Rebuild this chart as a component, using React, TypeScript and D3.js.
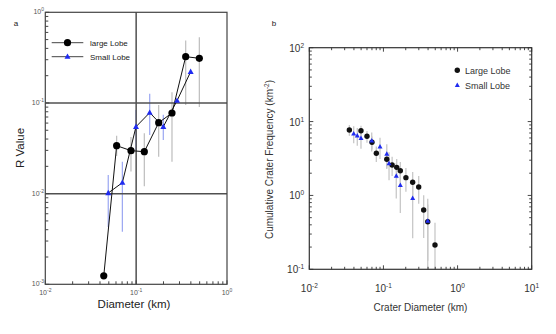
import React from "react";
import * as d3 from "d3";

// ---------- Panel a data (R value) ----------
const aLargeD = [0.044, 0.061, 0.0877, 0.123, 0.177, 0.248, 0.351, 0.496];
const aLargeR = [0.00124, 0.0338, 0.0298, 0.029, 0.0606, 0.0775, 0.324, 0.311];
const aLargeLo = [0.00124, 0.026, 0.0175, 0.0121, 0.0255, 0.0225, 0.095, 0.09];
const aLargeHi = [0.00124, 0.0436, 0.0421, 0.0463, 0.095, 0.131, 0.489, 0.53];

const aSmallD = [0.0493, 0.0705, 0.0996, 0.141, 0.199, 0.282, 0.398];
const aSmallR = [0.01016, 0.0132, 0.0547, 0.0781, 0.0547, 0.106, 0.221];
const aSmallLo = [0.00429, 0.0038, 0.0303, 0.0443, 0.039, 0.106, 0.221];
const aSmallHi = [0.0161, 0.0225, 0.0836, 0.126, 0.074, 0.106, 0.221];

// ---------- Panel b data (cumulative frequency) ----------
const bLargeD = [0.0347, 0.0498, 0.06, 0.0701, 0.0802, 0.111, 0.131, 0.151, 0.169, 0.201, 0.248, 0.299, 0.349, 0.396, 0.496];
const bLargeF = [7.69, 7.52, 6.32, 5.24, 3.72, 3.09, 2.58, 2.4, 2.16, 1.74, 1.51, 1.3, 0.635, 0.441, 0.213];
const bLargeErr = [1.28, 1.27, 1.15, 1.05, 0.89, 0.81, 0.75, 0.72, 0.68, 0.62, 0.57, 0.53, 0.37, 0.31, 0.213];

const bSmallD = [0.0397, 0.0444, 0.0498, 0.0695, 0.0899, 0.111, 0.119, 0.149, 0.169, 0.248, 0.396];
const bSmallF = [6.86, 6.44, 5.94, 5.51, 4.57, 3.64, 2.72, 1.83, 1.38, 0.914, 0.451];
const bSmallErr = [1.77, 1.72, 1.65, 1.59, 1.45, 1.29, 1.11, 0.92, 0.8, 0.65, 0.451];

const aXTicks = [0.01, 0.1, 1];
const aXTickLabels = ["-2", "-1", "0"];
const aYTicks = [0.001, 0.01, 0.1, 1];
const aYTickLabels = ["-3", "-2", "-1", "0"];
const bXTicks = [0.01, 0.1, 1, 10];
const bXTickLabels = ["-2", "-1", "0", "1"];
const bYTicks = [0.1, 1, 10, 100];
const bYTickLabels = ["-1", "0", "1", "2"];

const BLUE = "#1f2bf0";
const FONT = "Liberation Sans, Arial, sans-serif";

function minorTicks(lo: number, hi: number) {
  const out: number[] = [];
  for (let e = Math.round(Math.log10(lo)); e < Math.round(Math.log10(hi)); e++) {
    for (let k = 1; k <= 9; k++) out.push(k * Math.pow(10, e));
  }
  out.push(hi);
  return out;
}

function Tri({ x, y, s, color }: { x: number; y: number; s: number; color: string }) {
  const h = s * 0.9;
  return (
    <path
      d={`M${x},${y - h * 0.6} L${x + s / 2},${y + h * 0.4} L${x - s / 2},${y + h * 0.4} Z`}
      fill={color}
    />
  );
}

function PanelA() {
  const x = d3.scaleLog().domain([0.01, 1]).range([45.3, 227]);
  const y = d3.scaleLog().domain([0.001, 1]).range([284.3, 12.3]);
  const line = d3
    .line<number>()
    .x((d) => d);
  const largePath = d3.line<[number, number]>()(aLargeD.map((d, i) => [x(d), y(aLargeR[i])]));
  const smallPath = d3.line<[number, number]>()(aSmallD.map((d, i) => [x(d), y(aSmallR[i])]));
  void line;
  const xm = minorTicks(0.01, 1);
  const ym = minorTicks(0.001, 1);
  const frame = "#444";
  return (
    <g>
      {/* error bars */}
      {aLargeD.map((d, i) => (
        <line key={"ale" + i} x1={x(d)} x2={x(d)} y1={y(aLargeLo[i])} y2={y(aLargeHi[i])} stroke="#bdbdbd" strokeWidth={1.2} />
      ))}
      {aSmallD.map((d, i) => (
        <line key={"ase" + i} x1={x(d)} x2={x(d)} y1={y(aSmallLo[i])} y2={y(aSmallHi[i])} stroke="#9aa6f2" strokeWidth={1.2} />
      ))}
      {/* grid lines */}
      <line x1={x(0.1)} x2={x(0.1)} y1={y(0.001)} y2={y(1)} stroke="#505050" strokeWidth={1.5} />
      <line x1={x(0.01)} x2={x(1)} y1={y(0.1)} y2={y(0.1)} stroke="#505050" strokeWidth={1.5} />
      <line x1={x(0.01)} x2={x(1)} y1={y(0.01)} y2={y(0.01)} stroke="#505050" strokeWidth={1.5} />
      {/* frame */}
      <rect x={x(0.01)} y={y(1)} width={x(1) - x(0.01)} height={y(0.001) - y(1)} fill="none" stroke={frame} strokeWidth={1.2} />
      {xm.map((t, i) => (
        <line key={"axm" + i} x1={x(t)} x2={x(t)} y1={y(0.001)} y2={y(0.001) - (aXTicks.includes(t) ? 4 : 3)} stroke={frame} strokeWidth={1} />
      ))}
      {ym.map((t, i) => (
        <line key={"aym" + i} x1={x(0.01)} x2={x(0.01) + (aYTicks.includes(t) ? 4 : 3)} y1={y(t)} y2={y(t)} stroke={frame} strokeWidth={1} />
      ))}
      {/* tick labels */}
      {aXTicks.map((t, i) => (
        <text key={"axl" + i} x={x(t)} y={295} textAnchor="middle" fontSize={7} fill="#555" fontFamily={FONT}>
          10<tspan dy={-3} fontSize={5}>{aXTickLabels[i]}</tspan>
        </text>
      ))}
      {aYTicks.map((t, i) => (
        <text key={"ayl" + i} x={44} y={y(t) + 2} textAnchor="end" fontSize={7} fill="#555" fontFamily={FONT}>
          10<tspan dy={-3} fontSize={5}>{aYTickLabels[i]}</tspan>
        </text>
      ))}
      {/* series */}
      <path d={largePath || ""} fill="none" stroke="#111" strokeWidth={1} />
      <path d={smallPath || ""} fill="none" stroke="#111" strokeWidth={1} />
      {aLargeD.map((d, i) => (
        <circle key={"alc" + i} cx={x(d)} cy={y(aLargeR[i])} r={3.6} fill="#000" />
      ))}
      {aSmallD.map((d, i) => (
        <Tri key={"ast" + i} x={x(d)} y={y(aSmallR[i])} s={6} color={BLUE} />
      ))}
      {/* legend */}
      <line x1={51.7} x2={83.3} y1={42.7} y2={42.7} stroke="#444" strokeWidth={1} />
      <circle cx={67.5} cy={42.7} r={3.6} fill="#000" />
      <text x={90} y={45.5} fontSize={8} fill="#222" fontFamily={FONT}>large Lobe</text>
      <line x1={51.7} x2={83.3} y1={56.7} y2={56.7} stroke="#444" strokeWidth={1} />
      <Tri x={67.5} y={56.7} s={6} color={BLUE} />
      <text x={90} y={59.5} fontSize={8} fill="#222" fontFamily={FONT}>Small Lobe</text>
      {/* axis titles */}
      <text x={134} y={308} textAnchor="middle" fontSize={11.5} fill="#222" fontFamily={FONT}>Diameter (km)</text>
      <text transform="translate(24,148) rotate(-90)" textAnchor="middle" fontSize={11.5} fill="#222" fontFamily={FONT}>R Value</text>
      <text x={16} y={26} textAnchor="middle" fontSize={8} fill="#222" fontFamily={FONT}>a</text>
    </g>
  );
}

function PanelB() {
  const x = d3.scaleLog().domain([0.01, 10]).range([309.3, 531.7]);
  const y = d3.scaleLog().domain([0.1, 100]).range([269.3, 47.7]);
  const xm = minorTicks(0.01, 10);
  const ym = minorTicks(0.1, 100);
  const frame = "#333";
  const yBottom = y(0.1);
  const errY = (v: number) => (v <= 0.1 ? yBottom : y(v));
  return (
    <g>
      {bLargeD.map((d, i) => (
        <line key={"ble" + i} x1={x(d)} x2={x(d)} y1={errY(bLargeF[i] - bLargeErr[i])} y2={y(bLargeF[i] + bLargeErr[i])} stroke="#c8c8c8" strokeWidth={1.3} />
      ))}
      {bSmallD.map((d, i) => (
        <line key={"bse" + i} x1={x(d)} x2={x(d)} y1={errY(bSmallF[i] - bSmallErr[i])} y2={y(bSmallF[i] + bSmallErr[i])} stroke="#c8c8c8" strokeWidth={1.3} />
      ))}
      <rect x={x(0.01)} y={y(100)} width={x(10) - x(0.01)} height={y(0.1) - y(100)} fill="none" stroke={frame} strokeWidth={1.2} />
      {xm.map((t, i) => {
        const major = bXTicks.includes(t);
        const L = major ? 4 : 2.5;
        return (
          <g key={"bxm" + i}>
            <line x1={x(t)} x2={x(t)} y1={yBottom} y2={yBottom - L} stroke={frame} strokeWidth={0.9} />
            <line x1={x(t)} x2={x(t)} y1={y(100)} y2={y(100) + L} stroke={frame} strokeWidth={0.9} />
          </g>
        );
      })}
      {ym.map((t, i) => {
        const major = bYTicks.includes(t);
        const L = major ? 4 : 2.5;
        return (
          <g key={"bym" + i}>
            <line x1={x(0.01)} x2={x(0.01) + L} y1={y(t)} y2={y(t)} stroke={frame} strokeWidth={0.9} />
            <line x1={x(10)} x2={x(10) - L} y1={y(t)} y2={y(t)} stroke={frame} strokeWidth={0.9} />
          </g>
        );
      })}
      {bXTicks.map((t, i) => (
        <text key={"bxl" + i} x={x(t)} y={292} textAnchor="middle" fontSize={10} fill="#333" fontFamily={FONT}>
          10<tspan dy={-4} fontSize={6.5}>{bXTickLabels[i]}</tspan>
        </text>
      ))}
      {bYTicks.map((t, i) => (
        <text key={"byl" + i} x={304} y={y(t) + 4} textAnchor="end" fontSize={10} fill="#333" fontFamily={FONT}>
          10<tspan dy={-4} fontSize={6.5}>{bYTickLabels[i]}</tspan>
        </text>
      ))}
      {bLargeD.map((d, i) => (
        <circle key={"blc" + i} cx={x(d)} cy={y(bLargeF[i])} r={2.7} fill="#111" />
      ))}
      {bSmallD.map((d, i) => (
        <Tri key={"bst" + i} x={x(d)} y={y(bSmallF[i])} s={5} color={BLUE} />
      ))}
      {/* legend */}
      <circle cx={457.3} cy={70.3} r={2.7} fill="#111" />
      <text x={465} y={73.5} fontSize={9} fill="#333" fontFamily={FONT}>Large Lobe</text>
      <Tri x={457.3} y={85.3} s={5} color={BLUE} />
      <text x={465} y={88.5} fontSize={9} fill="#333" fontFamily={FONT}>Small Lobe</text>
      <text x={420.5} y={311} textAnchor="middle" fontSize={10} fill="#333" fontFamily={FONT}>Crater Diameter (km)</text>
      <text transform="translate(273,159.5) rotate(-90)" textAnchor="middle" fontSize={10} fill="#333" fontFamily={FONT}>
        Cumulative Crater Frequency (km<tspan dy={-4} fontSize={6.5}>-2</tspan><tspan dy={4}>)</tspan>
      </text>
      <text x={274} y={26} textAnchor="middle" fontSize={8} fill="#222" fontFamily={FONT}>b</text>
    </g>
  );
}

export default function App() {
  return (
    <svg
      width={556}
      height={334}
      style={{ position: "absolute", left: 0, top: 0, background: "#fff" }}
    >
      <rect width={556} height={334} fill="#fff" />
      <PanelA />
      <PanelB />
    </svg>
  );
}
